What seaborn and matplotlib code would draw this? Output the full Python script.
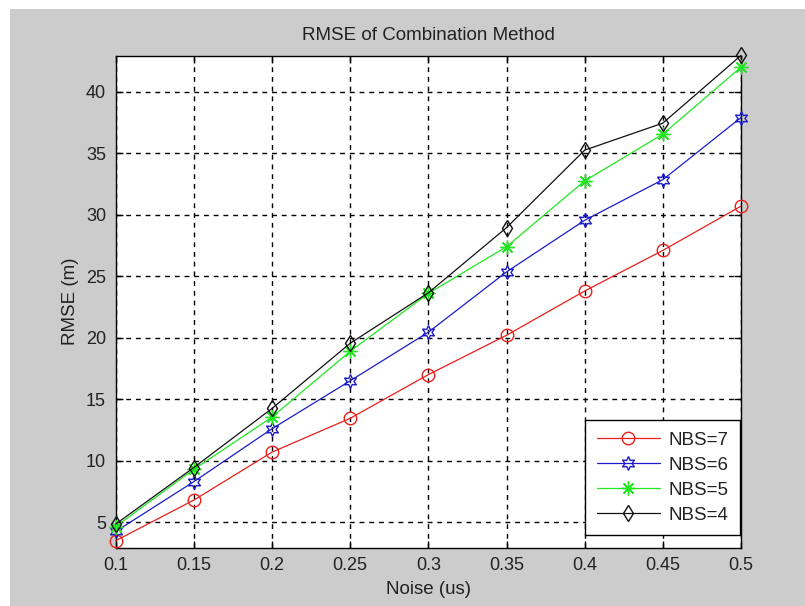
import matplotlib
matplotlib.use("Agg")
import matplotlib.pyplot as plt
from matplotlib.patches import Rectangle
import numpy as np
import pandas as pd
import seaborn as sns

# Noise levels (us)
noise = [0.1, 0.15, 0.2, 0.25, 0.3, 0.35, 0.4, 0.45, 0.5]

# RMSE (m) for each number of base stations
rmse_nbs7 = [3.5, 6.8, 10.7, 13.45, 17.0, 20.2, 23.8, 27.1, 30.7]
rmse_nbs6 = [4.25, 8.3, 12.6, 16.5, 20.45, 25.35, 29.55, 32.85, 37.9]
rmse_nbs5 = [4.65, 9.3, 13.55, 18.9, 23.6, 27.4, 32.75, 36.55, 42.0]
rmse_nbs4 = [4.85, 9.45, 14.25, 19.55, 23.65, 28.95, 35.25, 37.45, 42.95]

series_labels = ["NBS=7", "NBS=6", "NBS=5", "NBS=4"]
x_ticks = [0.1, 0.15, 0.2, 0.25, 0.3, 0.35, 0.4, 0.45, 0.5]
x_tick_labels = ["0.1", "0.15", "0.2", "0.25", "0.3", "0.35", "0.4", "0.45", "0.5"]
y_ticks = [5, 10, 15, 20, 25, 30, 35, 40]

sns.set_theme(style="white")
plt.rcParams["font.family"] = ["Liberation Sans", "DejaVu Sans"]

TEXT = "#222222"
FS = 13.5

fig = plt.figure(figsize=(8.05, 6.06), dpi=100, facecolor="white")
fig.patches.append(Rectangle((10 / 805, 0), 1 - 10 / 805, 1 - 9 / 606,
                             transform=fig.transFigure, facecolor="#cccccc",
                             edgecolor="none", zorder=-5))
ax = fig.add_axes([115.7 / 805, 1 - 547.7 / 606, (741 - 115.7) / 805, (547.7 - 55.7) / 606])
ax.set_facecolor("white")

styles = [
    ("#e8201c", "o", 9, rmse_nbs7),
    ("#1c1cc8", (6, 1, 0), 10, rmse_nbs6),
    ("#22e622", (8, 2, 0), 10, rmse_nbs5),
    ("#111111", "d", 8.5, rmse_nbs4),
]

for label, (color, marker, msize, values) in zip(series_labels, styles):
    df = pd.DataFrame({"Noise": noise, "RMSE": values})
    sns.lineplot(data=df, x="Noise", y="RMSE", ax=ax, color=color, label=label,
                 marker=marker, markersize=msize, markerfacecolor="none",
                 markeredgecolor=color, markeredgewidth=1.0, linewidth=0.9,
                 clip_on=False, zorder=3)

ax.set_xlim(0.1, 0.5)
ax.set_ylim(2.93, 42.93)
ax.set_xticks(x_ticks)
ax.set_xticklabels(x_tick_labels)
ax.set_yticks(y_ticks)

ax.grid(True, color="black", linestyle=(0, (3.5, 3.5)), linewidth=1.0)
ax.set_axisbelow(True)
for sp in ax.spines.values():
    sp.set_visible(True)
    sp.set_color("black")
    sp.set_linewidth(1.0)
ax.tick_params(axis="both", direction="in", length=5, width=1.0, colors="black",
               labelsize=13, top=True, right=True, bottom=True, left=True, pad=7)
for t in ax.get_xticklabels() + ax.get_yticklabels():
    t.set_color(TEXT)

ax.set_title("RMSE of Combination Method", fontsize=FS, color=TEXT, pad=11)
ax.set_xlabel("Noise (us)", fontsize=FS, color=TEXT, labelpad=5)
ax.set_ylabel("RMSE (m)", fontsize=FS, color=TEXT, labelpad=5)

leg = ax.legend(loc="lower right", bbox_to_anchor=(0.9985, 0.026), fontsize=FS,
                frameon=True, fancybox=False, framealpha=1.0, edgecolor="black",
                handlelength=3.4, handletextpad=0.45, borderpad=0.6,
                labelspacing=0.42, borderaxespad=0.0)
leg.get_frame().set_linewidth(1.0)
for txt in leg.get_texts():
    txt.set_color(TEXT)

fig.savefig("out.png", dpi=100, facecolor=fig.get_facecolor())
